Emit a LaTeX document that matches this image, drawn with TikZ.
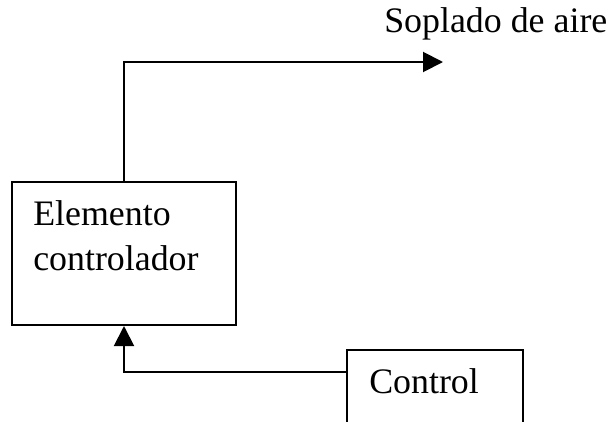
\documentclass[tikz,border=0pt]{standalone}
\usepackage{fontspec}
\setmainfont{Liberation Serif}
\usetikzlibrary{positioning,arrows.meta}
\tikzset{
  flowarrow/.style={-{Triangle[length=5mm, width=5mm]}, line width=1.4pt},
  blockbox/.style={draw, line width=1.4pt, inner sep=0pt},
  boxtext/.style={font=\fontsize{25.5}{32}\selectfont, inner sep=0pt, anchor=base west, align=left}
}

\begin{document}
\begin{tikzpicture}[x=0.025cm, y=-0.025cm]
      \useasboundingbox (0,0) rectangle (616,421);
      \clip (0,0) rectangle (616,421);
      \node[blockbox, minimum width=5.6cm, minimum height=3.575cm] (elem) at (124,253.5) {};
      \node[boxtext] (elemtext) at (33,270) {Elemento\\controlador};
      \node[blockbox, minimum width=4.4cm, minimum height=2.75cm] (ctrl) at (435,405) {};
      \node[boxtext] (ctrltext) at (369,393) {Control};
      \node[boxtext] (blow) at (384,32) {Soplado de aire};
      \coordinate (blowend) at (443,62);
      \draw[flowarrow] (elem.north) |- (blowend);
      \draw[flowarrow] ([yshift=-0.575cm]ctrl.north west) -| (elem.south);
    \end{tikzpicture}
\end{document}
